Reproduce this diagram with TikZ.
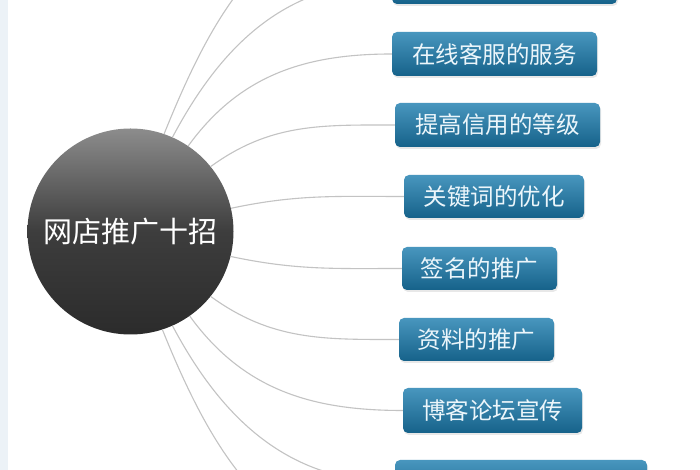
\documentclass[tikz,border=0pt]{standalone}
\usepackage{fontspec}
\newfontfamily\cjk{Noto Sans CJK SC}
\usetikzlibrary{shadows}
\definecolor{boxtop}{RGB}{72,150,190}
\definecolor{boxbot}{RGB}{22,98,138}
\definecolor{boxtext}{RGB}{236,246,251}
\definecolor{conncol}{RGB}{195,195,195}
\definecolor{stripcol}{RGB}{236,242,247}
\tikzset{
  hub/.style={circle, minimum size=206pt, inner sep=0pt, top color=black!45, bottom color=black!83, middle color=black!76, text=white, font=\cjk\fontsize{29}{32}\selectfont},
  tip/.style={rounded corners=5pt, inner sep=0pt, top color=boxtop, bottom color=boxbot, text=boxtext, font=\cjk\fontsize{23.5}{26}\selectfont, drop shadow={opacity=0.18, shadow xshift=1pt, shadow yshift=-2pt}},
  conn/.style={draw=conncol, line width=1.1pt},
}
\begin{document}
\begin{tikzpicture}[x=1pt,y=1pt]
\clip (0,0) rectangle (700,470);
\fill[white] (0,0) rectangle (700,470);
\fill[stripcol] (0,0) rectangle (8,470);
% hidden ends of the outermost connectors
\coordinate (t0) at (392,559);
\coordinate (t9) at (395,-83);
% boxes
\node[tip, minimum width=225pt, minimum height=44pt] (b1) at (504.5,488) {};
\node[tip, minimum width=205pt, minimum height=44pt] (b2) at (494.5,416) {在线客服的服务};
\node[tip, minimum width=205pt, minimum height=44pt] (b3) at (497.5,345) {提高信用的等级};
\node[tip, minimum width=180pt, minimum height=43pt] (b4) at (494,273.5) {关键词的优化};
\node[tip, minimum width=155pt, minimum height=43pt] (b5) at (479.5,201.5) {签名的推广};
\node[tip, minimum width=155pt, minimum height=43pt] (b6) at (476.5,130.5) {资料的推广};
\node[tip, minimum width=179pt, minimum height=45pt] (b7) at (492.5,59.5) {博客论坛宣传};
\node[tip, minimum width=252pt, minimum height=44pt] (b8) at (521,-12) {};
% hub
\node[hub] (hub) at (130.5,238.5) {网店推广十招};
% connectors
\draw[conn] (hub.71.6) to[out=68, in=180] (t0);
\draw[conn] (hub.66.3) to[out=62, in=180] (b1.west);
\draw[conn] (hub.56) to[out=54, in=180] (b2.west);
\draw[conn] (hub.39) to[out=36, in=180] (b3.west);
\draw[conn] (hub.13) to[out=12, in=180] (b4.west);
\draw[conn] (hub.-14.7) to[out=-12, in=180] (b5.west);
\draw[conn] (hub.-39.7) to[out=-36, in=180] (b6.west);
\draw[conn] (hub.-55.7) to[out=-54, in=180] (b7.west);
\draw[conn] (hub.-66.5) to[out=-62, in=180] (b8.west);
\draw[conn] (hub.-72) to[out=-68, in=180] (t9);
\end{tikzpicture}
\end{document}
